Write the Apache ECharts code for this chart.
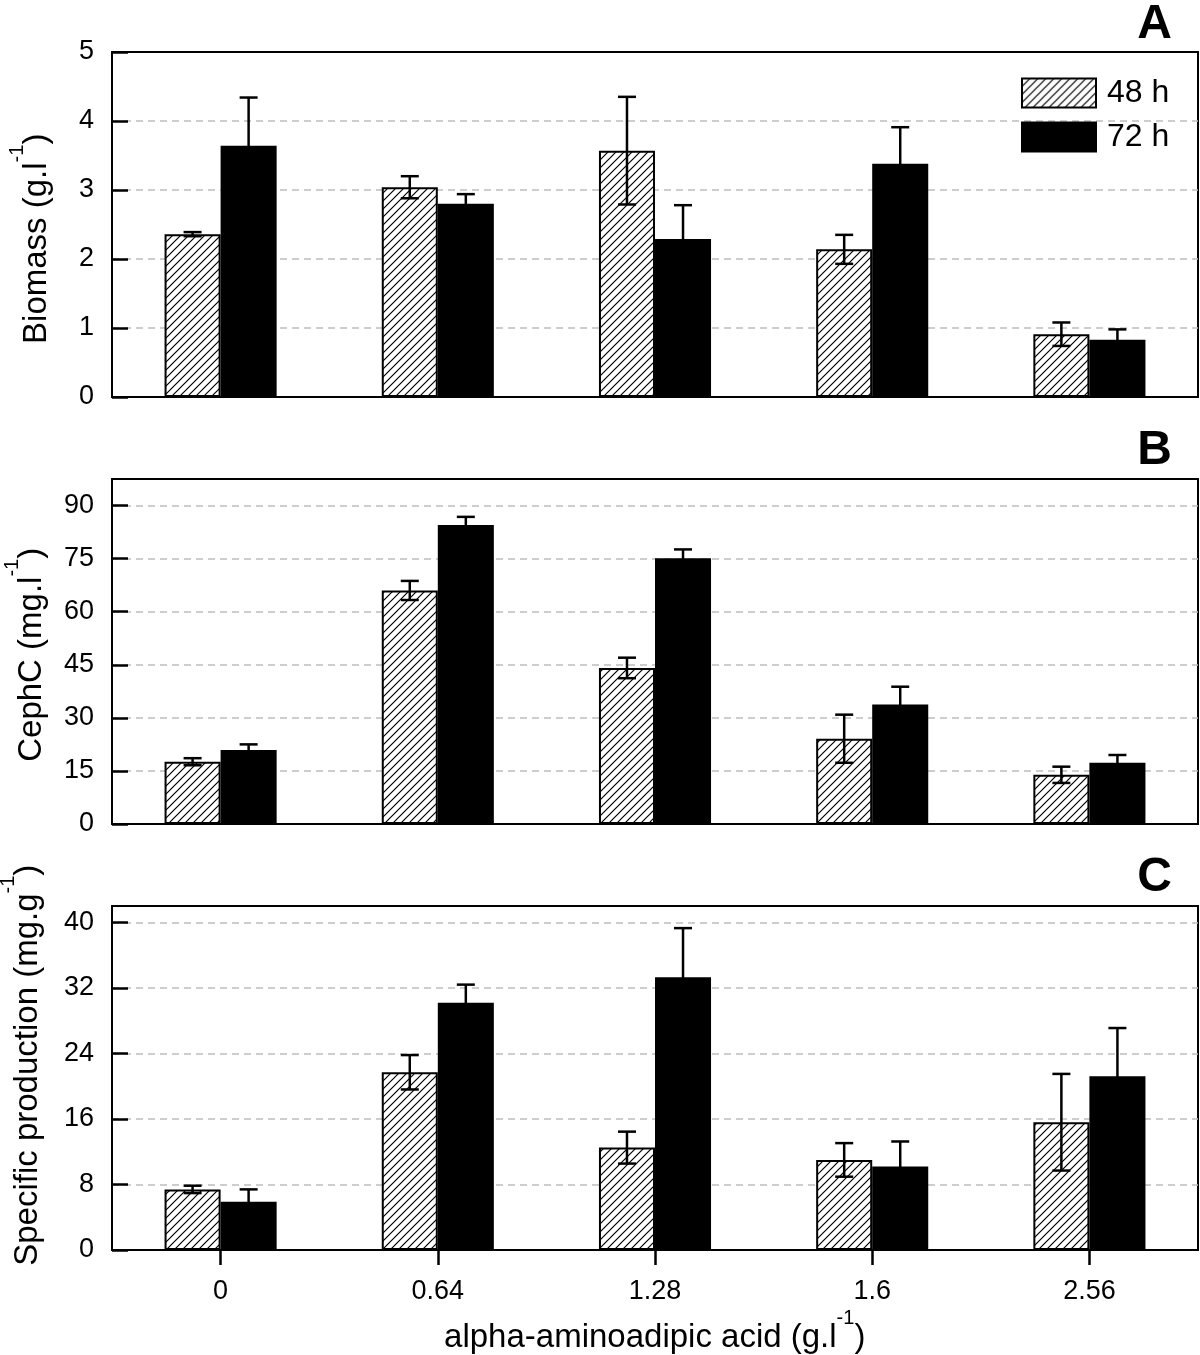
<!DOCTYPE html>
<html>
<head>
<meta charset="utf-8">
<script src="https://cdn.jsdelivr.net/npm/echarts@6/dist/echarts.min.js"></script>
<style>
html,body{margin:0;padding:0;background:#fff;}
#chart{width:1200px;height:1355px;}
</style>
</head>
<body>
<div id="chart"></div>
<script>
// ---- data ----
const categories = ['0', '0.64', '1.28', '1.6', '2.56'];
const seriesNames = ['48 h', '72 h'];

const biomass48 = [2.36, 3.04, 3.57, 2.14, 0.91];
const biomass48Err = [0.03, 0.16, 0.78, 0.21, 0.17];
const biomass72 = [3.64, 2.80, 2.29, 3.38, 0.83];
const biomass72Err = [0.70, 0.14, 0.49, 0.53, 0.15];

const cephc48 = [17.6, 66.0, 44.1, 24.1, 13.9];
const cephc48Err = [1.0, 2.7, 2.9, 6.8, 2.3];
const cephc72 = [20.9, 84.5, 75.1, 33.8, 17.3];
const cephc72Err = [1.6, 2.3, 2.5, 5.0, 2.2];

const spec48 = [7.4, 21.7, 12.5, 11.0, 15.6];
const spec48Err = [0.45, 2.1, 1.95, 2.05, 5.9];
const spec72 = [5.9, 30.2, 33.3, 10.2, 21.2];
const spec72Err = [1.5, 2.2, 6.0, 3.05, 5.9];

const panelLetters = ['A', 'B', 'C'];
const yMax = [5, 97.5, 42];
const yInterval = [1, 15, 8];

// ---- styles ----
const FONT = 'Liberation Sans, Arial, Helvetica, sans-serif';
const BAR_FRAC = 0.258;

function hatch() {
  const s = 8;
  const c = document.createElement('canvas');
  c.width = s; c.height = s;
  const g = c.getContext('2d');
  g.fillStyle = '#fff';
  g.fillRect(0, 0, s, s);
  g.strokeStyle = '#000';
  g.lineWidth = 1.2;
  g.beginPath();
  g.moveTo(0, s); g.lineTo(s, 0);
  g.moveTo(-s / 2, s / 2); g.lineTo(s / 2, -s / 2);
  g.moveTo(s / 2, s * 1.5); g.lineTo(s * 1.5, s / 2);
  g.stroke();
  return c;
}
const hatchPattern = { image: hatch(), repeat: 'repeat' };

const grids = [
  { left: 112, right: 2, top: 52, height: 345 },
  { left: 112, right: 2, top: 479, height: 345 },
  { left: 112, right: 2, top: 906, height: 344 }
];

const nameRich = {
  n: { fontSize: 33, lineHeight: 36, verticalAlign: 'bottom', fontFamily: FONT, color: '#000' },
  s: { fontSize: 20, lineHeight: 20, verticalAlign: 'top', fontFamily: FONT, color: '#000' },
  h: { fontSize: 2, lineHeight: 46, verticalAlign: 'top' }
};
const yNames = [
  '{n|Biomass (g.l}{s|-1}{n|)}{h| }',
  '{n|CephC (mg.l}{s|-1}{n|)}{h| }',
  '{n|Specific production (mg.g}{s|-1}{n|)}{h| }'
];
const yNameGaps = [59, 64, 68];
const yNamePad = [[0, 28, 0, 0], [0, 6, 0, 0], [0, 0, 0, 26]];

const panels = [
  [biomass48, biomass48Err, biomass72, biomass72Err],
  [cephc48, cephc48Err, cephc72, cephc72Err],
  [spec48, spec48Err, spec72, spec72Err]
];

const xAxes = [], yAxes = [], series = [], titles = [];
for (let i = 0; i < 3; i++) {
  const last = i === 2;
  xAxes.push({
    type: 'category', gridIndex: i, data: categories,
    axisLine: { show: true, lineStyle: { color: '#000', width: 2 } },
    axisTick: { show: last, alignWithLabel: true, length: 15, lineStyle: { color: '#000', width: 2.5 } },
    axisLabel: { show: last, fontSize: 27, color: '#000', fontFamily: FONT, margin: 28 },
    splitLine: { show: false },
    name: last ? '{n|alpha-aminoadipic acid (g.l}{s|-1}{n|)}{h| }' : '',
    nameLocation: 'middle', nameGap: 58,
    nameTextStyle: { rich: nameRich }
  });
  yAxes.push({
    type: 'value', gridIndex: i, min: 0, max: yMax[i], interval: yInterval[i],
    axisLine: { show: true, lineStyle: { color: '#000', width: 2 } },
    axisTick: { show: true, inside: true, length: 16, lineStyle: { color: '#000', width: 2.5 } },
    axisLabel: { fontSize: 27, color: '#000', fontFamily: FONT, margin: 18, showMaxLabel: i === 0 },
    splitLine: { show: true, showMinLine: false, showMaxLine: false,
      lineStyle: { color: '#bdbdbd', width: 1.5, type: [7, 5] } },
    name: yNames[i], nameLocation: 'middle', nameRotate: 90, nameGap: yNameGaps[i],
    nameTextStyle: { rich: nameRich, padding: yNamePad[i] }
  });
  const [v48, e48, v72, e72] = panels[i];
  series.push({
    name: seriesNames[0], type: 'bar', xAxisIndex: i, yAxisIndex: i,
    data: v48, barWidth: (BAR_FRAC * 100) + '%', barGap: '0%',
    itemStyle: { color: hatchPattern, borderColor: '#000', borderWidth: 2 },
    emphasis: { disabled: true }
  });
  series.push({
    name: seriesNames[1], type: 'bar', xAxisIndex: i, yAxisIndex: i,
    data: v72, barWidth: (BAR_FRAC * 100) + '%', barGap: '0%',
    itemStyle: { color: '#000', borderColor: '#000', borderWidth: 2 },
    emphasis: { disabled: true }
  });
  [[v48, e48, -1], [v72, e72, 1]].forEach(([vals, errs, sign]) => {
    series.push({
      type: 'custom', xAxisIndex: i, yAxisIndex: i, z: 5, silent: true,
      data: vals.map((v, k) => [k, v, errs[k]]),
      renderItem: function (params, api) {
        const ci = api.value(0), v = api.value(1), e = api.value(2);
        const band = api.size([1, 0])[0];
        const bw = band * BAR_FRAC;
        const c = api.coord([ci, v]);
        const x = c[0] + sign * bw / 2;
        const yT = api.coord([ci, v + e])[1];
        const yB = api.coord([ci, v - e])[1];
        const hw = 9;
        const st = { stroke: '#000', lineWidth: 2.5 };
        return { type: 'group', children: [
          { type: 'line', shape: { x1: x, y1: yT, x2: x, y2: yB }, style: st },
          { type: 'line', shape: { x1: x - hw, y1: yT, x2: x + hw, y2: yT }, style: st },
          { type: 'line', shape: { x1: x - hw, y1: yB, x2: x + hw, y2: yB }, style: st }
        ] };
      }
    });
  });
  titles.push({
    text: panelLetters[i], right: 28, top: [1, 427, 854][i], padding: 0,
    textStyle: { fontSize: 48, fontWeight: 'bold', color: '#000', fontFamily: FONT }
  });
}

const chart = echarts.init(document.getElementById('chart'), null, { renderer: 'canvas' });
chart.setOption({
  animation: false,
  backgroundColor: '#fff',
  title: titles,
  grid: grids.map(g => Object.assign({ show: true, borderColor: '#000', borderWidth: 2, backgroundColor: 'transparent', containLabel: false, outerBoundsMode: 'none' }, g)),
  legend: {
    data: seriesNames, orient: 'vertical', left: 1021, top: 77, padding: 0,
    itemWidth: 74, itemHeight: 29, itemGap: 12, icon: 'rect',
    textStyle: { fontSize: 32, color: '#000', fontFamily: FONT, padding: [0, 0, 0, 6] },
    selectedMode: false
  },
  xAxis: xAxes,
  yAxis: yAxes,
  series: series
});
</script>
</body>
</html>
